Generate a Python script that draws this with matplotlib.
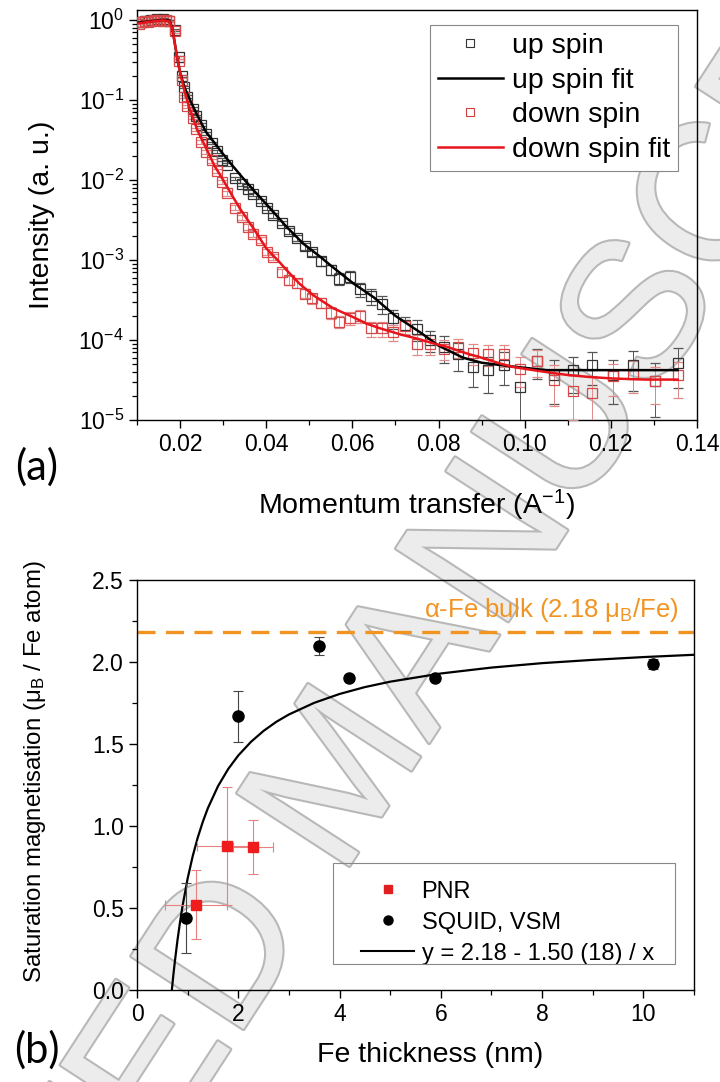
import numpy as np
import matplotlib
matplotlib.use("Agg")
import matplotlib.pyplot as plt
from matplotlib.lines import Line2D
from matplotlib.patches import Rectangle
from matplotlib.ticker import MultipleLocator, LogLocator, NullFormatter, FixedLocator
import matplotlib.patheffects as pe

plt.rcParams['font.family'] = ['Liberation Sans', 'DejaVu Sans']
plt.rcParams['mathtext.fontset'] = 'custom'
plt.rcParams['mathtext.rm'] = 'Liberation Sans'
plt.rcParams['mathtext.it'] = 'Liberation Sans:italic'
plt.rcParams['mathtext.bf'] = 'Liberation Sans:bold'
plt.rcParams['lines.scale_dashes'] = False

# (a) reflectivity data, momentum transfer in 1/A
q = [0.0105, 0.0112, 0.0119, 0.0126, 0.0133, 0.0140, 0.0147, 0.0154, 0.0161, 0.0168, 0.0175,
     0.0189, 0.0197, 0.0204, 0.0210, 0.0217, 0.0229, 0.0238, 0.0248, 0.0261, 0.0273,
     0.0285, 0.0297, 0.0308, 0.0327, 0.0343, 0.0358, 0.0370, 0.0387, 0.0401, 0.0416,
     0.0436, 0.0453, 0.0471, 0.0490, 0.0507, 0.0527, 0.0550, 0.0569, 0.0594, 0.0617,
     0.0644, 0.0668, 0.0695, 0.0722, 0.0751, 0.0780, 0.0813, 0.0846, 0.0880, 0.0914,
     0.0952, 0.0990, 0.1029, 0.1068, 0.1111, 0.1156, 0.1205, 0.1252, 0.1302, 0.1355]

up_spin = [0.93, 0.95, 0.97, 0.96, 0.99, 1.00, 1.02, 1.00, 1.03, 1.01, 0.98,
           0.75, 0.34, 0.20, 0.145, 0.11, 0.078, 0.063, 0.049, 0.038, 0.029,
           0.023, 0.018, 0.0155, 0.0105, 0.0088, 0.0078, 0.0066, 0.0054, 0.0045, 0.0036,
           0.0029, 0.0023, 0.0019, 0.0015, 0.00125, 0.00097, 0.00075, 0.00058, 0.00062, 0.00043,
           0.00035, 0.00028, 0.000186, 0.000155, 0.000137, 0.000100, 0.000082, 0.000066, 0.0000455, 0.000042,
           0.000049, 0.000026, 0.000055, 0.000036, 0.000042, 0.000049, 0.000036, 0.000048, 0.000031, 0.000052]

up_err = [0.02, 0.02, 0.02, 0.02, 0.02, 0.02, 0.02, 0.02, 0.02, 0.02, 0.02,
          0.03, 0.012, 0.007, 0.005, 0.004, 0.003, 0.0025, 0.002, 0.0015, 0.0012,
          0.001, 0.0008, 0.0007, 0.0005, 0.00045, 0.0004, 0.00035, 0.0003, 0.00027, 0.00024,
          0.0002, 0.00018, 0.00016, 0.00015, 0.00013, 0.00012, 0.00011, 0.0001, 0.00011, 0.00009,
          0.00008, 0.00007, 0.00005, 0.00004, 0.00004, 0.00003, 0.00003, 0.000025, 0.00002, 0.00002,
          0.000022, 0.00002, 0.000022, 0.00002, 0.00002, 0.000022, 0.00002, 0.000025, 0.00002, 0.000027]

down_spin = [0.90, 0.93, 0.96, 0.95, 0.97, 0.99, 0.97, 1.00, 0.98, 0.99, 0.96,
             0.72, 0.31, 0.18, 0.11, 0.083, 0.060, 0.043, 0.030, 0.0225, 0.0175,
             0.0130, 0.0095, 0.0068, 0.0045, 0.0034, 0.0026, 0.0021, 0.0018, 0.00127, 0.0011,
             0.00070, 0.00056, 0.00051, 0.00038, 0.00033, 0.00029, 0.00022, 0.00017, 0.00019, 0.00020,
             0.00014, 0.00014, 0.000125, 0.00015, 0.000089, 0.000089, 0.000078, 0.000081, 0.000069, 0.000067,
             0.000066, 0.000044, 0.000054, 0.000032, 0.000023, 0.000022, 0.000035, 0.000038, 0.000031, 0.000036]

down_err = [0.02, 0.02, 0.02, 0.02, 0.02, 0.02, 0.02, 0.02, 0.02, 0.02, 0.02,
            0.03, 0.012, 0.007, 0.005, 0.004, 0.003, 0.002, 0.0015, 0.0012, 0.001,
            0.0008, 0.0006, 0.0005, 0.0003, 0.00025, 0.0002, 0.00017, 0.00015, 0.00012, 0.0001,
            0.00008, 0.00007, 0.00006, 0.00005, 0.000045, 0.00004, 0.000035, 0.00003, 0.000035, 0.000035,
            0.00003, 0.00003, 0.000028, 0.00003, 0.000025, 0.000025, 0.000022, 0.000022, 0.00002, 0.00002,
            0.00002, 0.000018, 0.00002, 0.000017, 0.000013, 0.000013, 0.000015, 0.000016, 0.000015, 0.000017]

# fitted curves
fit_q_up = [0.0100, 0.0130, 0.0160, 0.0175, 0.0182, 0.0188, 0.0194, 0.0200, 0.0210, 0.0223,
            0.0239, 0.0260, 0.0280, 0.0300, 0.0320, 0.0340, 0.0370, 0.0400, 0.0430, 0.0447,
            0.0486, 0.0525, 0.0550, 0.0602, 0.0650, 0.0700, 0.0757, 0.0800, 0.0857, 0.0900,
            0.0965, 0.1050, 0.1200, 0.1355]
fit_up = [0.92, 0.96, 1.00, 0.98, 0.80, 0.50, 0.32, 0.22, 0.145, 0.10,
          0.066, 0.040, 0.029, 0.021, 0.0155, 0.0115, 0.0075, 0.0050, 0.0033, 0.0026,
          0.0016, 0.0011, 0.00085, 0.00051, 0.00034, 0.00020, 0.000125, 0.000085, 0.000060, 0.000052,
          0.000047, 0.000042, 0.000042, 0.000042]

fit_q_down = [0.0100, 0.0130, 0.0160, 0.0175, 0.0182, 0.0188, 0.0194, 0.0200, 0.0210, 0.0223,
              0.0240, 0.0262, 0.0280, 0.0300, 0.0320, 0.0340, 0.0370, 0.0400, 0.0430, 0.0450,
              0.0478, 0.0510, 0.0555, 0.0600, 0.0633, 0.0664, 0.0710, 0.0750, 0.0790, 0.0820,
              0.0865, 0.0900, 0.0942, 0.0973, 0.1020, 0.1060, 0.1100, 0.1150, 0.1205, 0.1280, 0.1355]
fit_down = [0.90, 0.95, 0.99, 0.96, 0.78, 0.50, 0.32, 0.22, 0.13, 0.075,
            0.042, 0.024, 0.015, 0.0100, 0.0065, 0.0043, 0.0025, 0.0014, 0.00095, 0.00072,
            0.00050, 0.00036, 0.00025, 0.000195, 0.000160, 0.000140, 0.000118, 0.000104, 0.000090, 0.000082,
            0.000068, 0.000060, 0.000051, 0.000046, 0.000042, 0.000039, 0.0000365, 0.0000345, 0.000033, 0.000032, 0.000032]

# (b) saturation magnetisation vs Fe thickness
pnr_x = [1.17, 1.78, 2.29]
pnr_y = [0.52, 0.88, 0.87]
pnr_xerr = [0.61, 0.60, 0.40]
pnr_yerr = [0.21, 0.36, 0.165]

squid_x = [0.96, 1.99, 3.59, 4.19, 5.88, 10.19]
squid_y = [0.44, 1.67, 2.10, 1.905, 1.90, 1.99]
squid_err = [0.215, 0.155, 0.055, 0.0, 0.0, 0.03]

fit_x = [0.688, 0.72, 0.75, 0.80, 0.85, 0.90, 1.0, 1.1, 1.2, 1.3, 1.4, 1.6, 1.8, 2.0, 2.25, 2.5,
         2.75, 3.0, 3.5, 4.0, 4.5, 5.0, 6.0, 7.0, 8.0, 9.0, 10.0, 11.0]
fit_y = [0.0, 0.097, 0.18, 0.305, 0.415, 0.513, 0.68, 0.816, 0.93, 1.026, 1.109, 1.243, 1.347, 1.43,
         1.513, 1.58, 1.635, 1.68, 1.751, 1.805, 1.847, 1.88, 1.93, 1.966, 1.993, 2.013, 2.03, 2.044]

bulk_value = 2.18

fig = plt.figure(figsize=(7.2, 10.82), dpi=100)
W, H = 720.0, 1082.0
ax1 = fig.add_axes([137 / W, 1 - 420 / H, (697 - 137) / W, (420 - 10) / H])
ax2 = fig.add_axes([137 / W, 1 - 990 / H, (694 - 137) / W, (990 - 580) / H])
ax1.patch.set_alpha(0)
ax2.patch.set_alpha(0)

# ---- panel (a)
ax1.set_yscale('log', nonpositive='clip')
ax1.errorbar(q, up_spin, yerr=up_err, fmt='s', ms=6.5, mfc='none', mec='#333333', mew=0.9,
             ecolor='#555555', elinewidth=0.7, capsize=3.5, capthick=0.7, zorder=3)
ax1.errorbar(q, down_spin, yerr=down_err, fmt='s', ms=6.5, mfc='none', mec='#d84848', mew=0.9,
             ecolor='#e08a8a', elinewidth=0.7, capsize=3.5, capthick=0.7, zorder=3)
ax1.plot(fit_q_up, fit_up, color='black', lw=1.8, zorder=4)
ax1.plot(fit_q_down, fit_down, color='#e8141b', lw=1.8, zorder=5)

ax1.set_xlim(0.01, 0.14)
ax1.set_ylim(1e-5, 1.33)
ax1.xaxis.set_major_locator(FixedLocator([0.02, 0.04, 0.06, 0.08, 0.10, 0.12, 0.14]))
ax1.xaxis.set_minor_locator(MultipleLocator(0.01))
ax1.set_xticklabels(['0.02', '0.04', '0.06', '0.08', '0.10', '0.12', '0.14'])
ax1.yaxis.set_major_locator(FixedLocator([1e-5, 1e-4, 1e-3, 1e-2, 1e-1, 1]))
ax1.set_yticklabels(['$10^{-5}$', '$10^{-4}$', '$10^{-3}$', '$10^{-2}$', '$10^{-1}$', '$10^{0}$'])
ax1.yaxis.set_minor_locator(LogLocator(base=10, subs=np.arange(2, 10)))
ax1.yaxis.set_minor_formatter(NullFormatter())

ax1.set_xlabel('Momentum transfer (A$^{-1}$)', fontsize=20.5)
ax1.set_ylabel('Intensity (a. u.)', fontsize=20.5)
ax1.xaxis.set_label_coords(0.5, -0.165)
ax1.yaxis.set_label_coords(-0.147, 0.5)

h_up = Line2D([], [], ls='none', marker='s', ms=5.5, mfc='none', mec='#333333', mew=0.8)
h_upfit = Line2D([], [], color='black', lw=1.8)
h_dn = Line2D([], [], ls='none', marker='s', ms=5.5, mfc='none', mec='#d04040', mew=0.8)
h_dnfit = Line2D([], [], color='#e8141b', lw=1.8)
leg1 = ax1.legend([h_up, h_upfit, h_dn, h_dnfit],
                  ['up spin', 'up spin fit', 'down spin', 'down spin fit'],
                  loc='upper right', bbox_to_anchor=(0.966, 0.963), borderaxespad=0,
                  fontsize=20.5, handlelength=2.3, handletextpad=0.3, labelspacing=0.30,
                  borderpad=0.28, fancybox=False, framealpha=1, edgecolor='#888888')
leg1.get_frame().set_linewidth(0.8)

# ---- panel (b)
ax2.plot(fit_x, fit_y, color='black', lw=1.6, zorder=3)
ax2.axhline(bulk_value, color='#f29422', lw=2.4, dashes=(13, 7.5), zorder=2)
ax2.errorbar(pnr_x, pnr_y, xerr=pnr_xerr, yerr=pnr_yerr, fmt='s', ms=7, color='#ee1c1c',
             ecolor='#e98080', elinewidth=0.8, capsize=3.5, capthick=0.8, zorder=4)
ax2.errorbar(squid_x, squid_y, yerr=squid_err, fmt='o', ms=8, color='black',
             ecolor='#444444', elinewidth=0.8, capsize=3.5, capthick=0.8, zorder=5)
ax2.text(10.7, 2.315, u'\u03b1-Fe bulk (2.18 \u03bc$_\mathregular{B}$/Fe)', color='#f29422',
         fontsize=18.5, ha='right', va='center')

ax2.set_xlim(0, 11)
ax2.set_ylim(0, 2.5)
ax2.xaxis.set_major_locator(MultipleLocator(2))
ax2.xaxis.set_minor_locator(MultipleLocator(1))
ax2.yaxis.set_major_locator(MultipleLocator(0.5))
ax2.yaxis.set_minor_locator(MultipleLocator(0.25))
ax2.set_yticklabels(['%.1f' % v for v in ax2.get_yticks()])
ax2.set_xlabel('Fe thickness (nm)', fontsize=20.5)
ax2.set_ylabel(u'Saturation magnetisation (\u03bc$_\mathregular{B}$ / Fe atom)', fontsize=17.3)
ax2.xaxis.set_label_coords(0.527, -0.128)
ax2.yaxis.set_label_coords(-0.16, 0.532)

# legend box of panel (b) is drawn separately (wide left margin in the original)
ax2.add_patch(Rectangle((0.3526, 0.0634), 0.965 - 0.3526, 0.3098 - 0.0634, transform=ax2.transAxes,
                        fill=False, edgecolor='#888888', lw=0.8, zorder=6))
h_pnr = Line2D([], [], ls='none', marker='s', ms=6, color='#e02020')
h_sq = Line2D([], [], ls='none', marker='o', ms=6.5, color='black')
h_fit = Line2D([], [], color='black', lw=1.5)
leg2 = ax2.legend([h_pnr, h_sq, h_fit], ['PNR', 'SQUID, VSM', 'y = 2.18 - 1.50 (18) / x'],
                  loc='lower right', bbox_to_anchor=(0.932, 0.056), borderaxespad=0,
                  fontsize=17, handlelength=2.25, handletextpad=0.3, labelspacing=0.38,
                  borderpad=0.1, frameon=False)

for ax in (ax1, ax2):
    ax.tick_params(which='major', direction='out', length=6, width=1, labelsize=16.5,
                   top=False, right=False)
    ax.tick_params(which='minor', direction='out', length=3.5, width=0.9, top=False, right=False)
    for s in ax.spines.values():
        s.set_linewidth(1.0)

fig.text(37 / W, 1 - 467 / H, '(a)', fontsize=30, family='Lato', ha='center', va='center')
fig.text(37 / W, 1 - 1050 / H, '(b)', fontsize=30, family='Lato', ha='center', va='center')

# journal watermark, behind the data
fig.text(0.48, 0.28, 'ACCEPTED MANUSCRIPT', fontsize=140, color='#ececec',
         rotation=57, ha='center', va='center', zorder=-1,
         path_effects=[pe.withStroke(linewidth=3, foreground='#b8b8b8')])

fig.savefig('out.png', dpi=100)
